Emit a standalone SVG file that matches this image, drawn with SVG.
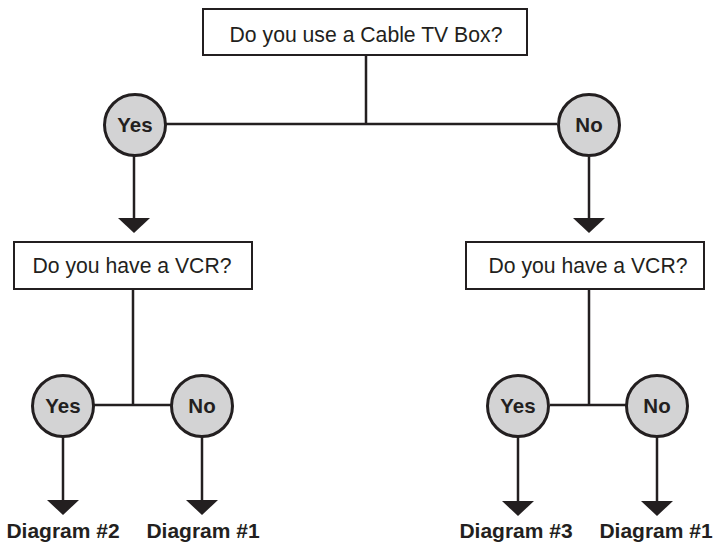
<svg xmlns="http://www.w3.org/2000/svg" width="715" height="545" viewBox="0 0 715 545">
<style>
.box{fill:#fff;stroke:#231f20;stroke-width:2}
.circ{fill:#d3d3d4;stroke:#231f20;stroke-width:3}
.q{font-family:"Liberation Sans",Arial,sans-serif;font-size:21.2px;fill:#231f20;text-anchor:middle}
.a{font-family:"Liberation Sans",Arial,sans-serif;font-size:20.5px;font-weight:bold;fill:#231f20;text-anchor:middle}
.d{font-family:"Liberation Sans",Arial,sans-serif;font-size:21px;font-weight:bold;fill:#231f20;text-anchor:middle}
.c{fill:none;stroke:#231f20;stroke-width:2.5}
</style>
<defs>
<marker id="arr" markerUnits="userSpaceOnUse" markerWidth="16" markerHeight="34" refX="0" refY="16" orient="auto" viewBox="0 0 16 32">
<path d="M0,0 L15,16 L0,32 z" fill="#231f20"/>
</marker>
</defs>
<rect width="715" height="545" fill="#fff"/>
<g id="connectors">
<path class="c" d="M366,55 V124 M166,124 H557"/>
<path class="c" d="M134,156 V218" marker-end="url(#arr)"/>
<path class="c" d="M589,157 V218" marker-end="url(#arr)"/>
<path class="c" d="M133,289 V405 M94,405 H171"/>
<path class="c" d="M589,289 V405 M550,405 H626"/>
<path class="c" d="M63,437 V500" marker-end="url(#arr)"/>
<path class="c" d="M202,437 V500" marker-end="url(#arr)"/>
<path class="c" d="M518,437 V501" marker-end="url(#arr)"/>
<path class="c" d="M657,437 V501" marker-end="url(#arr)"/>
</g>
<g id="q1"><rect class="box" x="203" y="9" width="324" height="46"/><text class="q" x="366" y="42">Do you use a Cable TV Box?</text></g>
<g id="yes1"><circle class="circ" cx="135" cy="125" r="30.5"/><text class="a" x="135" y="132">Yes</text></g>
<g id="no1"><circle class="circ" cx="589" cy="125" r="30.5"/><text class="a" x="589" y="132">No</text></g>
<g id="q2"><rect class="box" x="14" y="242" width="238" height="47"/><text class="q" x="132" y="273">Do you have a VCR?</text></g>
<g id="q3"><rect class="box" x="466" y="242" width="238" height="47"/><text class="q" x="588" y="273">Do you have a VCR?</text></g>
<g id="yes2"><circle class="circ" cx="63" cy="406" r="30.5"/><text class="a" x="63" y="413">Yes</text></g>
<g id="no2"><circle class="circ" cx="202" cy="406" r="30.5"/><text class="a" x="202" y="413">No</text></g>
<g id="yes3"><circle class="circ" cx="518" cy="406" r="30.5"/><text class="a" x="518" y="413">Yes</text></g>
<g id="no3"><circle class="circ" cx="657" cy="406" r="30.5"/><text class="a" x="657" y="413">No</text></g>
<g id="d2"><text class="d" x="63" y="538">Diagram #2</text></g>
<g id="d1a"><text class="d" x="203" y="538">Diagram #1</text></g>
<g id="d3"><text class="d" x="516" y="538">Diagram #3</text></g>
<g id="d1b"><text class="d" x="656" y="538">Diagram #1</text></g>
</svg>
